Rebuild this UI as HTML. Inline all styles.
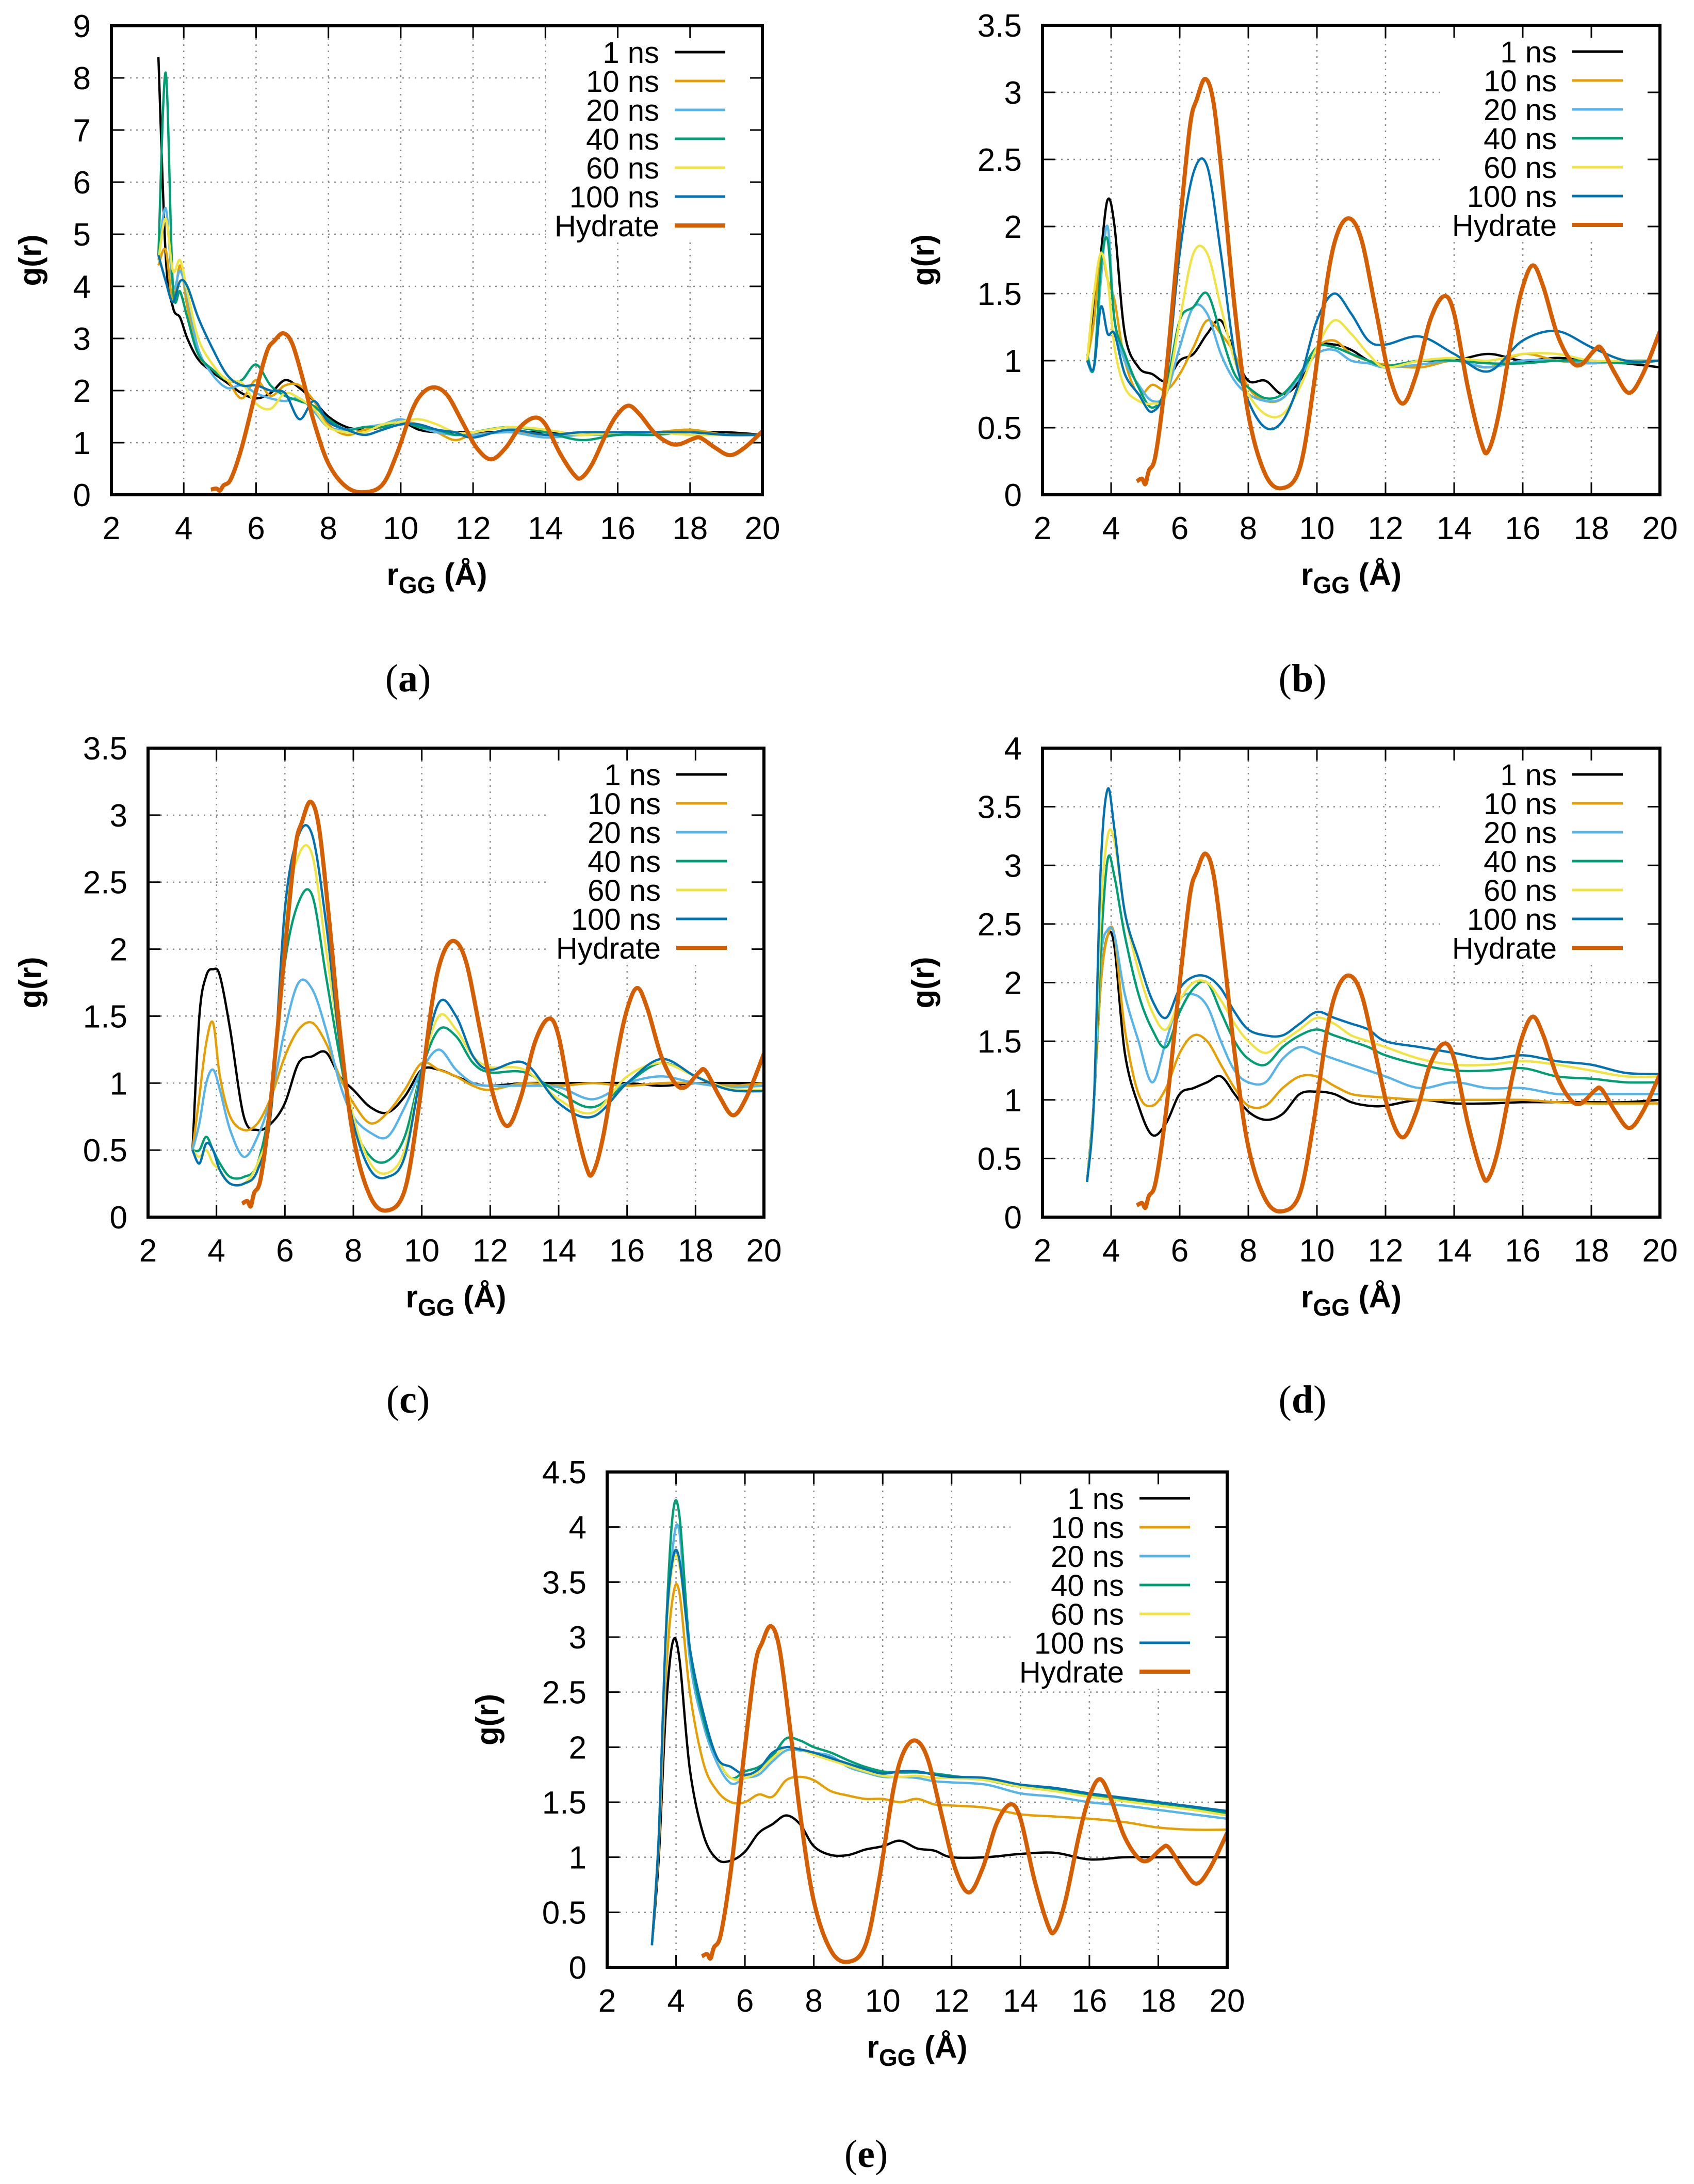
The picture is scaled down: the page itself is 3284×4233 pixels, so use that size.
<!DOCTYPE html>
<html><head><meta charset="utf-8">
<style>
html,body{margin:0;padding:0;background:#fff;}
svg{display:block;}
text{font-family:"Liberation Sans",sans-serif;}
text.cap{font-family:"Liberation Serif",serif;}
</style></head>
<body>
<svg id="fig" width="3284" height="4233" viewBox="0 0 3284 4233" xmlns="http://www.w3.org/2000/svg"></svg>
<script>
const seriesNames = ["1 ns","10 ns","20 ns","40 ns","60 ns","100 ns","Hydrate"];
const seriesColors = ["#000000","#e69f00","#56b4e9","#009e73","#f0e442","#0072b2","#d55e00"];
const simX = [3.3,3.5,3.7,3.9,4.1,4.4,4.8,5.2,5.6,6.0,6.4,6.8,7.2,7.6,8.0,8.5,9.0,9.5,10,10.5,11,11.5,12,13,14,15,16,17,18,19,20];
const xTicks = [2,4,6,8,10,12,14,16,18,20];
const hydX = [4.75,4.9,5.0,5.1,5.3,5.6,6.0,6.3,6.5,6.75,7.0,7.3,7.6,8.0,8.5,9.0,9.5,9.9,10.3,10.6,10.95,11.3,11.7,12.1,12.5,12.9,13.3,13.7,14.0,14.4,14.8,15.0,15.3,15.7,16.0,16.3,16.6,17.0,17.4,17.7,18.1,18.3,18.7,19.1,19.5,20.0];
const hydY = [0.1,0.12,0.08,0.18,0.3,0.9,2.0,2.75,2.95,3.1,2.9,2.2,1.4,0.6,0.15,0.05,0.2,0.8,1.6,1.95,2.06,1.9,1.4,0.9,0.68,0.9,1.3,1.48,1.35,0.8,0.38,0.33,0.6,1.2,1.55,1.71,1.55,1.2,1.0,0.97,1.08,1.09,0.9,0.76,0.9,1.22];

const a1 = [8.4,4.6,3.6,3.4,3.0,2.6,2.35,2.15,1.95,1.85,1.95,2.2,2.05,1.8,1.5,1.3,1.25,1.3,1.4,1.25,1.2,1.2,1.2,1.2,1.2,1.15,1.2,1.2,1.2,1.2,1.15];
const a10 = [4.4,4.7,3.7,4.4,3.6,2.7,2.4,2.2,1.85,2.2,1.9,2.1,2.1,1.8,1.35,1.15,1.25,1.3,1.4,1.35,1.2,1.05,1.15,1.2,1.15,1.15,1.2,1.2,1.25,1.15,1.15];
const a20 = [4.5,5.5,4.0,4.3,3.8,2.8,2.3,2.05,2.1,1.95,1.85,1.8,1.85,1.6,1.3,1.25,1.3,1.35,1.45,1.3,1.2,1.15,1.15,1.2,1.1,1.15,1.15,1.2,1.2,1.15,1.15];
const a40 = [4.6,8.1,4.0,3.9,3.4,2.7,2.4,2.2,2.2,2.5,2.1,1.9,1.8,1.7,1.45,1.25,1.3,1.3,1.4,1.3,1.25,1.15,1.2,1.3,1.2,1.05,1.15,1.15,1.2,1.15,1.15];
const a60 = [4.5,5.3,4.3,4.5,3.9,3.0,2.5,2.2,2.15,1.75,1.65,1.95,1.85,1.65,1.3,1.2,1.2,1.35,1.4,1.45,1.35,1.2,1.2,1.3,1.25,1.15,1.2,1.2,1.15,1.15,1.15];
const a100 = [4.6,4.1,3.7,4.1,4.0,3.4,2.8,2.3,2.1,2.1,2.0,1.95,1.45,1.8,1.4,1.25,1.15,1.25,1.35,1.35,1.25,1.2,1.1,1.25,1.15,1.2,1.2,1.2,1.2,1.15,1.15];

const b1 = [1.0,1.4,1.8,2.2,2.0,1.2,0.95,0.9,0.85,1.0,1.05,1.2,1.3,1.05,0.85,0.85,0.75,0.85,1.1,1.12,1.08,1.0,0.95,1.0,1.0,1.05,1.0,1.02,1.0,0.98,0.95];
const b10 = [1.0,1.3,1.8,1.6,1.45,1.0,0.75,0.82,0.78,0.9,1.1,1.3,1.2,1.05,0.8,0.7,0.72,0.9,1.1,1.15,1.05,1.0,0.97,0.95,1.0,0.95,1.05,1.0,0.98,1.0,1.0];
const b20 = [1.0,0.95,1.6,2.0,1.3,1.0,0.82,0.7,0.75,1.1,1.4,1.35,1.05,0.85,0.75,0.7,0.72,0.88,1.05,1.08,1.0,0.98,0.95,0.97,1.0,0.95,1.0,1.0,0.98,1.0,1.0];
const b40 = [1.05,0.95,1.7,1.9,1.3,1.05,0.8,0.65,0.8,1.3,1.4,1.5,1.2,0.9,0.8,0.72,0.75,0.9,1.1,1.1,1.05,1.0,0.96,1.0,1.0,0.98,0.98,1.0,1.0,0.98,1.0];
const b60 = [1.0,1.5,1.8,1.6,1.1,0.8,0.7,0.68,0.75,1.3,1.8,1.8,1.4,1.0,0.75,0.6,0.6,0.8,1.1,1.3,1.2,1.05,0.95,1.0,1.02,1.0,1.05,1.05,1.0,1.0,1.0];
const b100 = [1.0,0.95,1.4,1.2,1.2,0.9,0.75,0.62,0.85,1.8,2.4,2.45,1.8,1.05,0.7,0.5,0.55,0.85,1.3,1.5,1.35,1.15,1.12,1.18,1.05,0.92,1.15,1.22,1.1,1.0,1.0];

const c1 = [0.5,1.5,1.8,1.85,1.8,1.4,0.75,0.65,0.7,0.85,1.15,1.2,1.23,1.05,0.95,0.82,0.78,0.9,1.1,1.1,1.05,1.0,0.98,1.0,1.0,1.0,1.0,0.98,1.0,1.0,1.0];
const c10 = [0.5,0.9,1.3,1.45,1.05,0.75,0.65,0.7,0.9,1.2,1.4,1.45,1.3,1.05,0.85,0.7,0.78,0.95,1.15,1.1,1.05,0.98,0.95,1.0,0.98,1.0,0.98,1.0,1.0,0.98,1.0];
const c20 = [0.5,0.7,1.0,1.1,0.95,0.65,0.45,0.6,0.9,1.4,1.75,1.7,1.4,1.0,0.75,0.63,0.6,0.82,1.1,1.25,1.1,1.0,0.98,0.98,0.97,0.88,1.0,1.05,1.0,0.97,0.98];
const c40 = [0.5,0.5,0.6,0.5,0.4,0.3,0.3,0.4,0.9,1.9,2.35,2.4,1.8,1.2,0.7,0.45,0.42,0.6,1.1,1.4,1.35,1.15,1.08,1.08,0.93,0.82,1.0,1.15,1.05,0.96,0.95];
const c60 = [0.5,0.45,0.5,0.4,0.35,0.25,0.25,0.4,0.8,2.2,2.7,2.7,2.0,1.3,0.75,0.4,0.33,0.5,1.1,1.5,1.4,1.2,1.12,1.1,0.88,0.78,1.05,1.15,1.05,0.96,0.95];
const c100 = [0.5,0.4,0.55,0.5,0.35,0.25,0.25,0.35,0.8,2.3,2.85,2.85,2.2,1.3,0.7,0.35,0.3,0.45,1.1,1.6,1.5,1.2,1.1,1.15,0.85,0.75,1.0,1.18,1.05,0.95,0.94];

const d1 = [0.3,1.0,2.0,2.4,2.3,1.4,0.95,0.7,0.8,1.05,1.1,1.15,1.2,1.05,0.9,0.83,0.88,1.05,1.07,1.05,0.98,0.95,0.95,1.0,0.97,0.97,0.98,0.98,0.98,0.98,1.0];
const d10 = [0.3,1.0,2.0,2.4,2.4,1.6,1.05,0.95,1.1,1.4,1.55,1.5,1.3,1.1,0.95,0.95,1.1,1.2,1.2,1.12,1.05,1.03,1.02,1.0,1.0,1.0,1.0,0.98,0.97,0.97,0.97];
const d20 = [0.3,1.0,2.2,2.45,2.4,1.9,1.5,1.15,1.5,1.85,1.9,1.8,1.5,1.25,1.15,1.15,1.35,1.45,1.4,1.35,1.3,1.25,1.2,1.1,1.15,1.1,1.1,1.05,1.05,1.05,1.05];
const d40 = [0.3,1.0,2.3,3.05,2.9,2.4,1.9,1.6,1.45,1.75,1.95,2.0,1.75,1.5,1.35,1.3,1.45,1.55,1.6,1.55,1.5,1.45,1.38,1.3,1.25,1.25,1.27,1.2,1.18,1.15,1.15];
const d60 = [0.3,1.0,2.6,3.25,3.2,2.6,2.1,1.75,1.6,1.85,2.0,2.0,1.85,1.65,1.5,1.4,1.5,1.6,1.7,1.65,1.55,1.5,1.45,1.35,1.3,1.3,1.33,1.3,1.25,1.2,1.2];
const d100 = [0.3,1.0,3.0,3.65,3.3,2.6,2.2,1.85,1.7,1.95,2.05,2.05,1.95,1.75,1.6,1.55,1.55,1.65,1.75,1.7,1.65,1.6,1.5,1.45,1.4,1.35,1.38,1.33,1.3,1.23,1.22];

const e1 = [0.2,1.0,2.3,2.95,2.8,1.8,1.2,0.98,0.97,1.05,1.22,1.3,1.38,1.3,1.1,1.02,1.02,1.07,1.1,1.15,1.08,1.06,1.0,1.0,1.03,1.04,0.98,1.0,1.0,1.0,1.0];
const e10 = [0.2,1.1,2.6,3.35,3.4,2.5,1.85,1.6,1.5,1.5,1.57,1.55,1.7,1.73,1.7,1.6,1.56,1.53,1.53,1.5,1.53,1.48,1.47,1.45,1.39,1.37,1.35,1.32,1.27,1.25,1.25];
const e20 = [0.2,1.2,2.9,3.8,3.95,2.8,2.2,1.85,1.67,1.72,1.75,1.87,1.97,1.97,1.95,1.92,1.82,1.77,1.73,1.73,1.72,1.69,1.68,1.66,1.58,1.55,1.5,1.47,1.43,1.39,1.35];
const e40 = [0.2,1.2,3.0,4.1,4.1,2.9,2.25,1.9,1.72,1.78,1.82,1.92,2.08,2.06,2.0,1.95,1.88,1.82,1.78,1.77,1.77,1.76,1.74,1.7,1.64,1.62,1.56,1.52,1.48,1.44,1.4];
const e60 = [0.2,1.2,2.9,3.65,3.65,2.9,2.3,1.9,1.72,1.72,1.78,1.9,2.0,1.98,1.93,1.88,1.83,1.78,1.74,1.73,1.74,1.72,1.72,1.7,1.64,1.6,1.55,1.51,1.47,1.43,1.38];
const e100 = [0.2,1.2,3.0,3.7,3.7,2.9,2.3,1.9,1.82,1.75,1.8,1.95,2.0,1.98,1.95,1.9,1.85,1.8,1.76,1.78,1.78,1.75,1.73,1.72,1.66,1.63,1.58,1.54,1.5,1.46,1.42];

const yTicksA = [0,1,2,3,4,5,6,7,8,9];
const yTicksB = [0,0.5,1,1.5,2,2.5,3,3.5];
const yTicksD = [0,0.5,1,1.5,2,2.5,3,3.5,4];
const yTicksE = [0,0.5,1,1.5,2,2.5,3,3.5,4,4.5];

const panels = [
  {id:"a", L:216, R:1478, T:50, B:959, ymax:9, yt:yTicksA, sims:[a1,a10,a20,a40,a60,a100], ylx:59, cx:791, cy:1340},
  {id:"b", L:2021, R:3218, T:49, B:959, ymax:3.5, yt:yTicksB, sims:[b1,b10,b20,b40,b60,b100], ylx:1790, cx:2525, cy:1340},
  {id:"c", L:287, R:1481, T:1450, B:2359, ymax:3.5, yt:yTicksB, sims:[c1,c10,c20,c40,c60,c100], ylx:59, cx:791, cy:2738},
  {id:"d", L:2021, R:3218, T:1450, B:2359, ymax:4, yt:yTicksD, sims:[d1,d10,d20,d40,d60,d100], ylx:1790, cx:2525, cy:2738},
  {id:"e", L:1177, R:2379, T:2853, B:3813, ymax:4.5, yt:yTicksE, sims:[e1,e10,e20,e40,e60,e100], ylx:945, cx:1679, cy:4200}
];

const NS = "http://www.w3.org/2000/svg";
const svg = document.getElementById("fig");
function mk(tag, parent){ const e=document.createElementNS(NS,tag); parent.appendChild(e); return e; }
function smoothPath(pts){
  let d = "M"+pts[0][0].toFixed(1)+","+pts[0][1].toFixed(1);
  for(let i=0;i<pts.length-1;i++){
    const p0=pts[Math.max(0,i-1)], p1=pts[i], p2=pts[i+1], p3=pts[Math.min(pts.length-1,i+2)];
    const c1x=p1[0]+(p2[0]-p0[0])/6, c1y=p1[1]+(p2[1]-p0[1])/6;
    const c2x=p2[0]-(p3[0]-p1[0])/6, c2y=p2[1]-(p3[1]-p1[1])/6;
    d+=" C"+c1x.toFixed(1)+","+c1y.toFixed(1)+" "+c2x.toFixed(1)+","+c2y.toFixed(1)+" "+p2[0].toFixed(1)+","+p2[1].toFixed(1);
  }
  return d;
}

panels.forEach(p=>{
  const g = mk("g", svg);
  
  
  const sx = v => p.L + (v-2)/18*(p.R-p.L);
  const sy = v => p.B - v/p.ymax*(p.B-p.T);
  const clipId = "clip"+p.id;
  const cp = mk("clipPath", g); cp.setAttribute("id", clipId);
  const cr = mk("rect", cp); cr.setAttribute("x",p.L); cr.setAttribute("y",p.T); cr.setAttribute("width",p.R-p.L); cr.setAttribute("height",p.B-p.T);

  const grid = mk("g", g);
  
  
  grid.setAttribute("stroke","#888"); grid.setAttribute("stroke-width","2.5"); grid.setAttribute("stroke-dasharray","3,9");
  xTicks.forEach(t=>{ if(t===2||t===20) return; const l=mk("line",grid); l.setAttribute("x1",sx(t)); l.setAttribute("x2",sx(t)); l.setAttribute("y1",p.T); l.setAttribute("y2",p.B); });
  p.yt.forEach(t=>{ if(t===0||t===p.ymax) return; const l=mk("line",grid); l.setAttribute("x1",p.L); l.setAttribute("x2",p.R); l.setAttribute("y1",sy(t)); l.setAttribute("y2",sy(t)); });

  const lb = mk("rect", g);
  
  
  lb.setAttribute("x", p.R-420); lb.setAttribute("y", p.T+3); lb.setAttribute("width", 415); lb.setAttribute("height", 415); lb.setAttribute("fill","#fff");

  const tk = mk("g", g); tk.setAttribute("stroke","#000"); tk.setAttribute("stroke-width","3");
  
  
  xTicks.forEach(t=>{
    [[p.B,p.B-24],[p.T,p.T+24]].forEach(([a,b])=>{ const l=mk("line",tk); l.setAttribute("x1",sx(t)); l.setAttribute("x2",sx(t)); l.setAttribute("y1",a); l.setAttribute("y2",b); });
    const tx = mk("text", g);
    
    
    tx.setAttribute("x", sx(t)); tx.setAttribute("y", p.B+86); tx.setAttribute("text-anchor","middle"); tx.setAttribute("font-size","62");
    tx.textContent = t;
  });
  p.yt.forEach(t=>{
    [[p.L,p.L+24],[p.R,p.R-24]].forEach(([a,b])=>{ const l=mk("line",tk); l.setAttribute("y1",sy(t)); l.setAttribute("y2",sy(t)); l.setAttribute("x1",a); l.setAttribute("x2",b); });
    const tx = mk("text", g);
    
    
    tx.setAttribute("x", p.L-40); tx.setAttribute("y", sy(t)+22); tx.setAttribute("text-anchor","end"); tx.setAttribute("font-size","62");
    tx.textContent = t;
  });

  const ser = mk("g", g); ser.setAttribute("clip-path","url(#"+clipId+")");
  
  
  p.sims.forEach((ys,i)=>{
    const pts = simX.map((x,j)=>[sx(x), sy(ys[j])]);
    const path = mk("path", ser);
    
    
    path.setAttribute("d", smoothPath(pts)); path.setAttribute("fill","none");
    path.setAttribute("stroke", seriesColors[i]); path.setAttribute("stroke-width","4.5"); path.setAttribute("stroke-linejoin","round");
  });
  const hp = mk("path", ser);
  
  
  hp.setAttribute("d", smoothPath(hydX.map((x,j)=>[sx(x), sy(hydY[j])]))); hp.setAttribute("fill","none");
  hp.setAttribute("stroke", seriesColors[6]); hp.setAttribute("stroke-width","8"); hp.setAttribute("stroke-linejoin","round");

  const fr = mk("rect", g);
  
  
  fr.setAttribute("x",p.L); fr.setAttribute("y",p.T); fr.setAttribute("width",p.R-p.L); fr.setAttribute("height",p.B-p.T);
  fr.setAttribute("fill","none"); fr.setAttribute("stroke","#000"); fr.setAttribute("stroke-width","6");

  seriesNames.forEach((n,i)=>{
    const y = p.T + 51 + i*56;
    const ln = mk("line", g);
    
    
    ln.setAttribute("x1", p.R-170); ln.setAttribute("x2", p.R-72); ln.setAttribute("y1", y); ln.setAttribute("y2", y);
    ln.setAttribute("stroke", seriesColors[i]); ln.setAttribute("stroke-width", i===6?"8":"5");
    const tx = mk("text", g);
    
    
    tx.setAttribute("x", p.R-200); tx.setAttribute("y", y+21); tx.setAttribute("text-anchor","end"); tx.setAttribute("font-size","58");
    tx.textContent = n;
  });

  const xl = mk("text", g);
  
  
  xl.setAttribute("x", (p.L+p.R)/2); xl.setAttribute("y", p.B+175); xl.setAttribute("text-anchor","middle");
  xl.setAttribute("font-size","60"); xl.setAttribute("font-weight","bold");
  const t1 = mk("tspan", xl); t1.textContent = "r";
  const t2 = mk("tspan", xl); t2.setAttribute("font-size","46"); t2.setAttribute("dy","16"); t2.textContent = "GG";
  const t3 = mk("tspan", xl); t3.setAttribute("dy","-16"); t3.textContent = " (Å)";
  const yl = mk("text", g);
  
  
  const ycy = (p.T+p.B)/2;
  yl.setAttribute("transform", "translate("+(p.ylx+20)+","+ycy+") rotate(-90)");
  yl.setAttribute("text-anchor","middle"); yl.setAttribute("font-size","60"); yl.setAttribute("font-weight","bold");
  yl.textContent = "g(r)";

  const cap = mk("text", g);
  
  
  cap.setAttribute("class","cap");
  cap.setAttribute("x", p.cx); cap.setAttribute("y", p.cy); cap.setAttribute("text-anchor","middle");
  cap.setAttribute("font-size","76");
  const c1 = mk("tspan", cap); c1.textContent="(";
  const c2 = mk("tspan", cap); c2.setAttribute("font-weight","bold"); c2.textContent=p.id;
  const c3 = mk("tspan", cap); c3.textContent=")";
});
</script>
</body></html>
